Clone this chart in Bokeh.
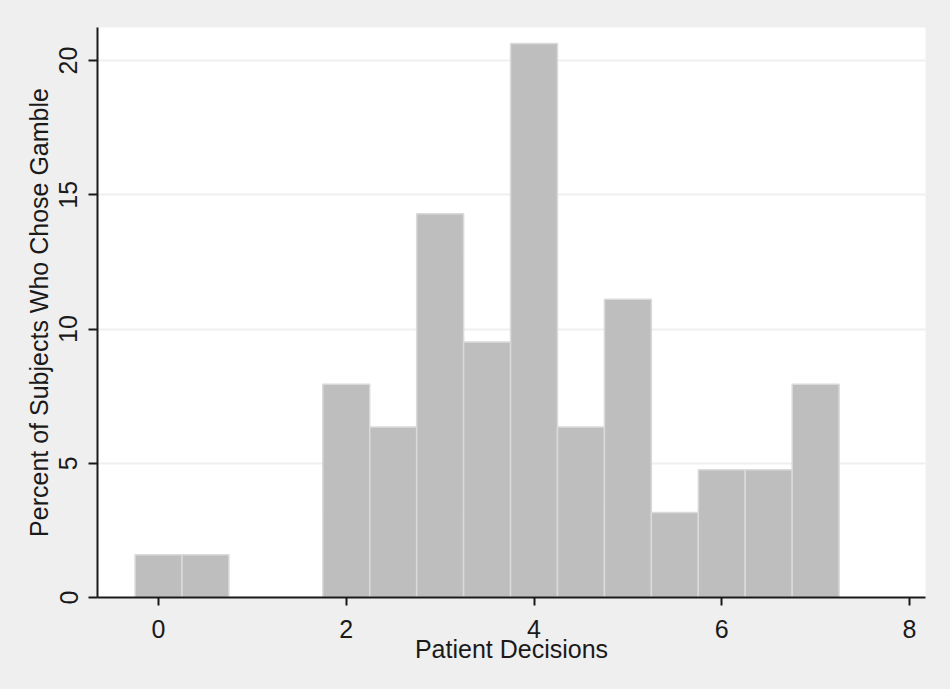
from bokeh.plotting import figure
from bokeh.models import FixedTicker, Range1d, GlobalInlineStyleSheet, ColumnDataSource
from bokeh.embed import file_html
from bokeh.resources import INLINE

# Histogram of patient decisions (bin width 0.5)
bin_centers = [0, 0.5, 1, 1.5, 2, 2.5, 3, 3.5, 4, 4.5, 5, 5.5, 6, 6.5, 7]
percents = [1.59, 1.59, 0, 0, 7.94, 6.35, 14.29, 9.52, 20.63, 6.35, 11.11, 3.17, 4.76, 4.76, 7.94]
bin_width = 0.5
x_ticks = [0, 2, 4, 6, 8]
y_ticks = [0, 5, 10, 15, 20]

src = ColumnDataSource(dict(x=bin_centers, top=percents))

p = figure(width=934, height=673, output_backend="svg", toolbar_location=None,
           x_range=Range1d(-0.65, 8.17), y_range=Range1d(0, 21.23),
           min_border_left=97, min_border_right=9, min_border_top=27, min_border_bottom=76)

p.vbar(x="x", top="top", width=bin_width, bottom=0, source=src,
       fill_color="#bebebe", line_color="#dadada", line_width=1.5)

p.background_fill_color = "white"
p.border_fill_color = "#efefef"
p.outline_line_color = None
p.stylesheets = [GlobalInlineStyleSheet(css="body { background-color: #efefef; }")]

p.xgrid.grid_line_color = None
p.ygrid.ticker = FixedTicker(ticks=y_ticks)
p.ygrid.grid_line_color = "#efefef"
p.ygrid.grid_line_width = 2

font = "Liberation Sans"
for ax in (p.xaxis[0], p.yaxis[0]):
    ax.axis_line_color = "#1a1a1a"
    ax.axis_line_width = 2
    ax.major_tick_line_color = "#1a1a1a"
    ax.major_tick_line_width = 2
    ax.major_tick_in = 0
    ax.minor_tick_line_color = None
    ax.major_label_text_font = font
    ax.major_label_text_font_size = "25px"
    ax.major_label_text_color = "#1a1a1a"
    ax.axis_label_text_font = font
    ax.axis_label_text_font_size = "25px"
    ax.axis_label_text_font_style = "normal"
    ax.axis_label_text_color = "#1a1a1a"

p.xaxis.ticker = FixedTicker(ticks=x_ticks)
p.xaxis.major_tick_out = 8
p.xaxis.major_label_standoff = 14
p.xaxis.axis_label = "Patient Decisions"
p.xaxis.axis_label_standoff = -6

p.yaxis.ticker = FixedTicker(ticks=y_ticks)
p.yaxis.major_tick_out = 9
p.yaxis.major_label_orientation = "vertical"
p.yaxis.major_label_standoff = 11
p.yaxis.axis_label = "Percent of Subjects Who Chose Gamble"
p.yaxis.axis_label_standoff = 4

open("out.html", "w").write(file_html(p, INLINE))
